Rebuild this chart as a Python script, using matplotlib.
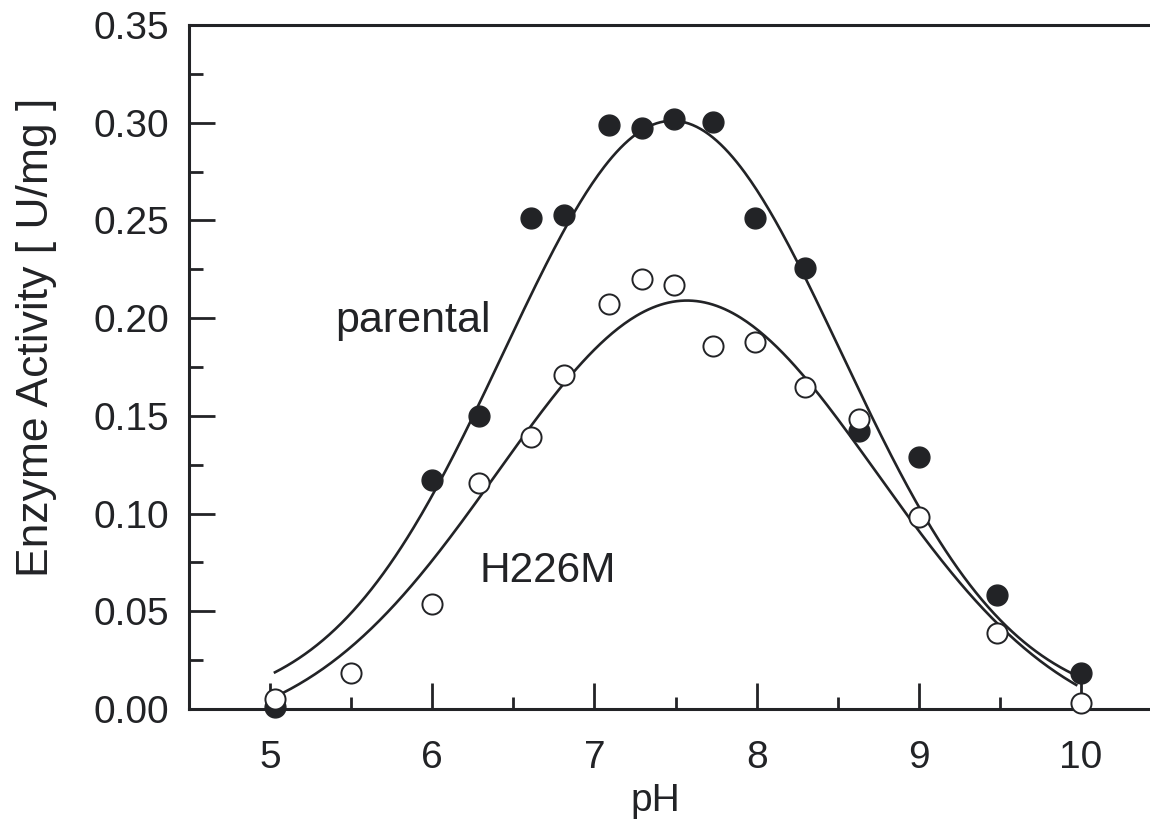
import numpy as np
import matplotlib
matplotlib.use("Agg")
import matplotlib.pyplot as plt
from matplotlib.ticker import MultipleLocator

# ---- data ----
ph_parental = [5.03, 6.00, 6.29, 6.61, 6.81, 7.09, 7.29, 7.49, 7.73, 7.99, 8.30, 8.63, 9.00, 9.48, 10.00]
act_parental = [0.001, 0.117, 0.150, 0.251, 0.253, 0.299, 0.2975, 0.302, 0.3006, 0.251, 0.2255, 0.1425, 0.129, 0.0585, 0.0186]

ph_h226m = [5.03, 5.50, 6.00, 6.29, 6.61, 6.81, 7.09, 7.29, 7.49, 7.73, 7.99, 8.30, 8.63, 9.00, 9.48, 10.00]
act_h226m = [0.005, 0.0183, 0.0536, 0.1158, 0.1394, 0.171, 0.207, 0.2199, 0.217, 0.186, 0.188, 0.1646, 0.1486, 0.098, 0.0387, 0.0032]

# fitted bell curves (offset, amplitude, centre, width)
fit_parental = (0.0, 0.301, 7.48, 1.04)
fit_h226m = (-0.015, 0.224, 7.57, 1.17)
fit_range = (5.03, 9.97)

x_ticks = [5, 6, 7, 8, 9, 10]
y_ticks = [0.00, 0.05, 0.10, 0.15, 0.20, 0.25, 0.30, 0.35]

INK = "#222326"
plt.rcParams["font.family"] = ["Liberation Sans", "DejaVu Sans"]

fig = plt.figure(figsize=(11.5, 8.23), dpi=100)
ax = fig.add_axes([189 / 1150, 114 / 823, (1150 - 189) / 1150, 684 / 823])

def bell(x, p):
    y0, a, mu, s = p
    return y0 + a * np.exp(-(x - mu) ** 2 / (2 * s ** 2))

xx = np.linspace(fit_range[0], fit_range[1], 400)
ax.plot(xx, bell(xx, fit_parental), color=INK, lw=1.9, zorder=2)
ax.plot(xx, bell(xx, fit_h226m), color=INK, lw=1.9, zorder=2)

ax.plot(ph_parental, act_parental, 'o', ms=15, color=INK, mec=INK, zorder=3, clip_on=False)
ax.plot(ph_h226m, act_h226m, 'o', ms=14.5, mfc="white", mec=INK, mew=1.4, zorder=4, clip_on=False)

ax.text(5.40, 0.193, "parental", fontsize=31, color=INK)
ax.text(6.29, 0.0652, "H226M", fontsize=30.5, color=INK)

ax.set_xlim(4.5, 10.425)
ax.set_ylim(0, 0.35)
ax.set_xticks(x_ticks)
ax.set_yticks(y_ticks)
ax.set_yticklabels([f"{v:.2f}" for v in y_ticks])
ax.xaxis.set_minor_locator(MultipleLocator(0.5))
ax.yaxis.set_minor_locator(MultipleLocator(0.025))

ax.tick_params(which="both", direction="in", color=INK, width=2, labelcolor=INK, labelsize=28)
ax.tick_params(axis="x", which="major", length=19, pad=22)
ax.tick_params(axis="x", which="minor", length=9)
ax.tick_params(axis="y", which="major", length=19, pad=14)
ax.tick_params(axis="y", which="minor", length=10)

for side in ("left", "bottom", "top"):
    ax.spines[side].set_linewidth(2.2)
    ax.spines[side].set_color(INK)
ax.spines["right"].set_visible(False)

ax.set_xlabel("pH", fontsize=28, color=INK)
ax.set_ylabel("Enzyme Activity [ U/mg ]", fontsize=32, color=INK)
ax.xaxis.set_label_coords((655 - 189) / 961, (709 - 783) / 684)
ax.yaxis.set_label_coords((57 - 189) / 961, (709 - 337) / 684)

fig.savefig("out.png", dpi=100)
